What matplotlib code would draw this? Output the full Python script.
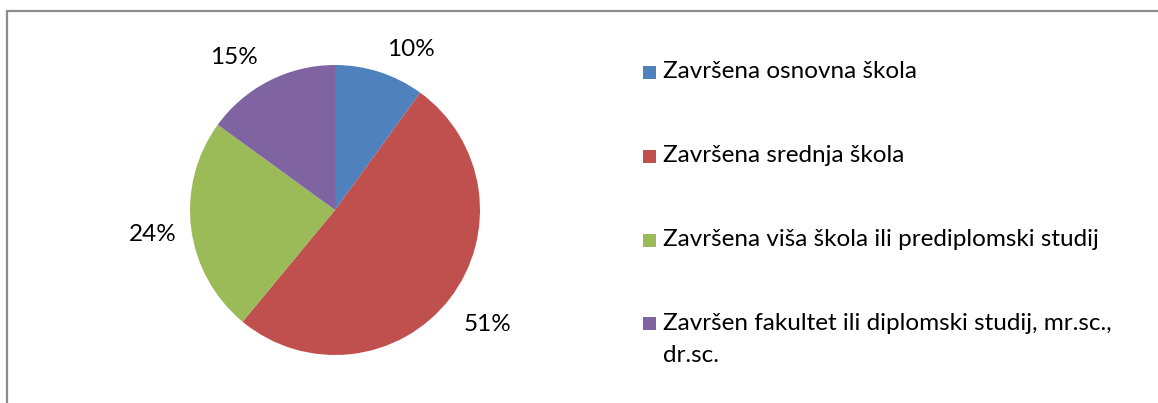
import matplotlib
matplotlib.use("Agg")
import matplotlib.pyplot as plt
from matplotlib.patches import Rectangle

categories = [
    "Završena osnovna škola",
    "Završena srednja škola",
    "Završena viša škola ili prediplomski studij",
    "Završen fakultet ili diplomski studij, mr.sc.,\ndr.sc.",
]
values = [10, 51, 24, 15]
colors = ["#4F81BD", "#C0504D", "#9BBB59", "#8064A2"]

plt.rcParams['font.family'] = ['Lato', 'DejaVu Sans']
FS = 17.5

W, H = 1158, 403
fig = plt.figure(figsize=(W / 100, H / 100), dpi=100)

# frame
fig.add_artist(Rectangle((7.5 / W, -0.05), 1.2, (H - 11) / H + 0.05,
                         transform=fig.transFigure, fill=False,
                         edgecolor="#8C8C8C", lw=1.6))

cx, cy, r = 335, H - 210, 145
ax = fig.add_axes([(cx - r) / W, (cy - r) / H, 2 * r / W, 2 * r / H])
wedges, texts, autotexts = ax.pie(
    values, colors=colors, startangle=90, counterclock=False,
    autopct=lambda p: f"{p:.0f}%", pctdistance=1.27,
    textprops=dict(fontsize=FS, color="#000000"),
    wedgeprops=dict(linewidth=0))
ax.set_xlim(-1, 1)
ax.set_ylim(-1, 1)
ax.set_aspect("auto")

# Excel-like label placement nudges (axes data units)
nudges = [(0.13, -0.1), (0.05, -0.01), (0.0, -0.01), (-0.12, -0.08)]
for t, (dx, dy) in zip(autotexts, nudges):
    x, y = t.get_position()
    t.set_position((x + dx, y + dy))

# legend drawn manually
sq = 13
lx = 643
ys = [72, 156, 240, 323]
for lab, col, y in zip(categories, colors, ys):
    fig.add_artist(Rectangle((lx / W, (H - y - sq / 2) / H), sq / W, sq / H,
                             transform=fig.transFigure, facecolor=col, lw=0))
    lines = lab.split("\n")
    for i, line in enumerate(lines):
        fig.text(663 / W, (H - y - 33 * i) / H, line, fontsize=FS,
                 va="center", ha="left", color="#000000")

fig.savefig("out.png", dpi=100)
